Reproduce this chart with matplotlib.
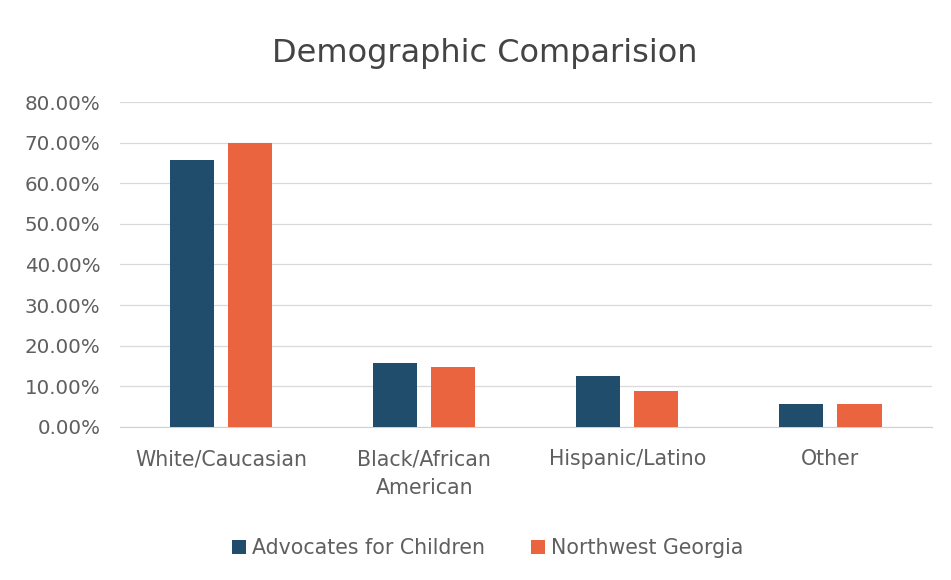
import matplotlib
matplotlib.use('Agg')
import matplotlib.pyplot as plt
import numpy as np
from matplotlib.ticker import PercentFormatter

# chart data
categories = ['White/Caucasian', 'Black/African\nAmerican', 'Hispanic/Latino', 'Other']
advocates = [0.657, 0.158, 0.126, 0.057]
nw_georgia = [0.70, 0.148, 0.089, 0.057]
series_names = ['Advocates for Children', 'Northwest Georgia']

blue = '#1f4d6b'
orange = '#ea6440'
grey_text = '#5f5f5f'

fig = plt.figure(figsize=(9.51, 5.8), dpi=100)
ax = fig.add_axes([0.126, 0.264, 0.854, 0.56])

x = np.arange(len(categories))
w = 0.217
gap = 0.069
ax.bar(x - (w + gap) / 2, advocates, w, color=blue, label=series_names[0], zorder=3)
ax.bar(x + (w + gap) / 2, nw_georgia, w, color=orange, label=series_names[1], zorder=3)

ax.set_xlim(-0.5, len(categories) - 0.5)
ax.set_ylim(0, 0.8)
ax.set_yticks(np.arange(0, 0.81, 0.1))
ax.yaxis.set_major_formatter(PercentFormatter(1.0, decimals=2))
ax.set_xticks(x)
ax.set_xticklabels(categories, linespacing=1.55)

ax.grid(axis='y', color='#d9d9d9', linewidth=0.9, zorder=0)
for s in ['top', 'right', 'left']:
    ax.spines[s].set_visible(False)
ax.spines['bottom'].set_color('#d0d0d0')
ax.tick_params(axis='both', length=0, labelsize=14.8, labelcolor=grey_text)
ax.tick_params(axis='x', pad=16)
ax.tick_params(axis='y', labelsize=14.3, pad=14)

fig.suptitle('Demographic Comparision', x=0.51, y=0.935, fontsize=23, color='#444444')

ax.legend(loc='upper center', bbox_to_anchor=(0.453, -0.285), ncol=2, frameon=False,
          fontsize=14.8, labelcolor=grey_text, handlelength=0.7, handleheight=0.7,
          handletextpad=0.3, columnspacing=2.2)

fig.savefig('out.png', dpi=100, facecolor='white')
